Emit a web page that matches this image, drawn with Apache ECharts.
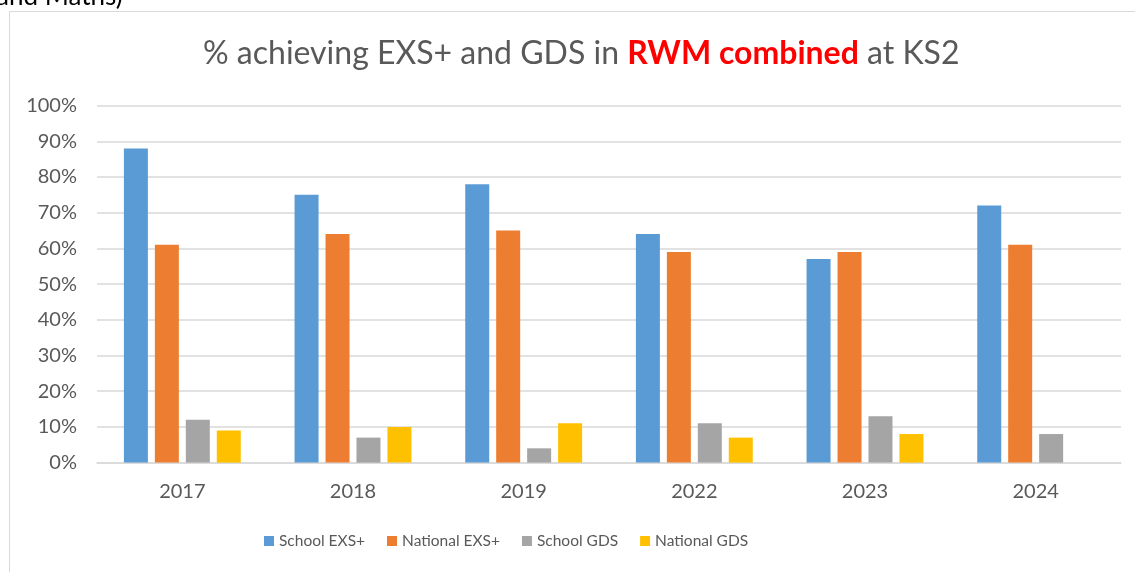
<!DOCTYPE html>
<html>
<head>
<meta charset="utf-8">
<script src="https://cdn.jsdelivr.net/npm/echarts@6/dist/echarts.min.js"></script>
<style>
  html, body { margin: 0; padding: 0; background: #fff; }
  #chart { width: 1135px; height: 572px; }
</style>
</head>
<body>
<div id="chart"></div>
<script>
// years on the x axis
var years = ['2017', '2018', '2019', '2022', '2023', '2024'];
// percentages
var schoolExs = [88, 75, 78, 64, 57, 72];
var nationalExs = [61, 64, 65, 59, 59, 61];
var schoolGds = [12, 7, 4, 11, 13, 8];
var nationalGds = [9, 10, 11, 7, 8, null];

var seriesNames = ['School EXS+', 'National EXS+', 'School GDS', 'National GDS'];
var seriesColors = ['#5B9BD5', '#ED7D31', '#A5A5A5', '#FFC000'];
var seriesData = [schoolExs, nationalExs, schoolGds, nationalGds];

var font = 'Lato, "Liberation Sans", sans-serif';
var chart = echarts.init(document.getElementById('chart'));

var option = {
  animation: false,
  textStyle: { fontFamily: font },
  title: {
    text: '{n|% achieving EXS+ and GDS in }{r|RWM combined}{n| at KS2}',
    left: 198,
    top: 33,
    textStyle: {
      fontWeight: 'normal',
      rich: {
        n: { fontFamily: font, fontSize: 32, color: '#595959', fontWeight: 'normal' },
        r: { fontFamily: font, fontSize: 32, color: '#FF0000', fontWeight: 'bold' }
      }
    }
  },
  legend: {
    bottom: 18,
    left: 259,
    itemWidth: 10,
    itemHeight: 10,
    itemGap: 22,
    icon: 'rect',
    textStyle: { fontFamily: font, fontSize: 15.5, color: '#595959' },
    data: seriesNames
  },
  grid: { left: 97, right: 14, top: 105.6, bottom: 109.4, containLabel: false },
  xAxis: {
    type: 'category',
    data: years,
    axisTick: { show: false },
    axisLine: { lineStyle: { color: '#D9D9D9', width: 1.5 } },
    axisLabel: { color: '#595959', fontSize: 20, margin: 19, fontFamily: font }
  },
  yAxis: {
    type: 'value',
    min: 0,
    max: 100,
    interval: 10,
    axisLabel: { formatter: '{value}%', color: '#595959', fontSize: 20, margin: 20, fontFamily: font },
    splitLine: { lineStyle: { color: '#D9D9D9', width: 1.5 } },
    axisLine: { show: false },
    axisTick: { show: false }
  },
  graphic: [
    {
      type: 'rect',
      shape: { x: 9.5, y: 11.5, width: 1200, height: 600 },
      style: { fill: 'none', stroke: '#D9D9D9', lineWidth: 1 },
      z: -1
    },
    {
      type: 'text',
      left: -4,
      top: -16,
      style: { text: 'and Maths)', fontSize: 26, fill: '#000', fontFamily: font }
    }
  ],
  series: seriesNames.map(function (name, i) {
    return {
      name: name,
      type: 'bar',
      data: seriesData[i],
      barWidth: 24,
      barGap: '29%',
      itemStyle: { color: seriesColors[i] }
    };
  })
};

chart.setOption(option);
</script>
</body>
</html>
